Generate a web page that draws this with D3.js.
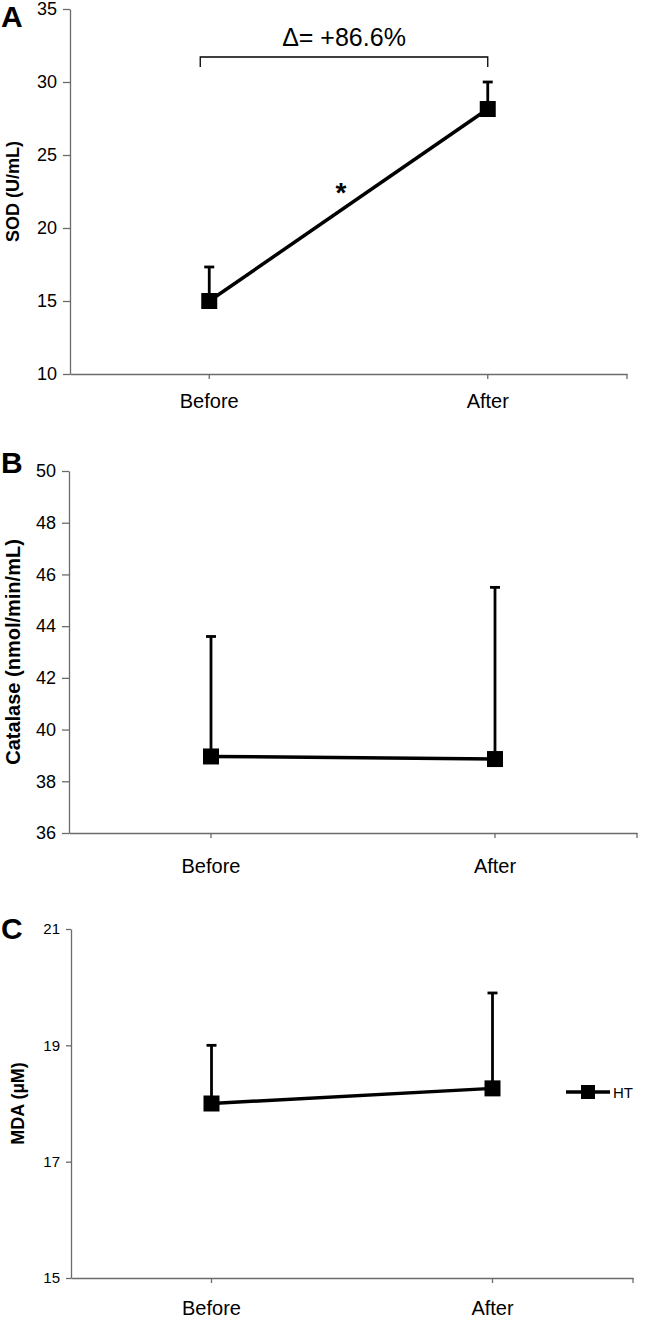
<!DOCTYPE html>
<html>
<head>
<meta charset="utf-8">
<script src="https://cdn.jsdelivr.net/npm/d3@7"></script>
<style>
  html, body { margin: 0; padding: 0; background: #fff; }
  svg { display: block; }
  text { font-family: "Liberation Sans", Arial, sans-serif; fill: #000; }
</style>
</head>
<body>
<svg id="chart" width="667" height="1320"></svg>
<script>
// ---- data ----
const categories = ["Before", "After"];

const sodMean = [15.0, 28.15];
const sodErr  = [2.33, 1.85];
const sodTicks = [10, 15, 20, 25, 30, 35];

const catMean = [38.96, 38.86];
const catErr  = [4.64, 6.64];
const catTicks = [36, 38, 40, 42, 44, 46, 48, 50];

const mdaMean = [18.0, 18.26];
const mdaErr  = [1.0, 1.64];
const mdaTicks = [15, 17, 19, 21];

const seriesName = "HT";
const deltaLabel = "\u0394= +86.6%";

// ---- drawing ----
const svg = d3.select("#chart");
const axisColor = "#6b6b6b";

function panel(cfg) {
  const g = svg.append("g");
  const x = d3.scaleBand().domain(categories).range([cfg.left, cfg.right]);
  const cx = c => x(c) + x.bandwidth() / 2;
  const y = d3.scaleLinear().domain([cfg.ticks[0], cfg.ticks[cfg.ticks.length - 1]]).range([cfg.bottom, cfg.top]);

  // y axis
  const ya = g.append("g").attr("transform", `translate(${cfg.left},0)`)
    .call(d3.axisLeft(y).tickValues(cfg.ticks).tickSize(cfg.tickLen).tickSizeOuter(0).tickPadding(cfg.tickPad).tickFormat(d3.format("d")));
  ya.select(".domain").attr("stroke", axisColor).attr("stroke-width", 1.3);
  ya.selectAll(".tick line").attr("stroke", axisColor).attr("stroke-width", 1.3);
  ya.selectAll(".tick text").attr("font-size", cfg.tickFont).attr("fill", "#000")
    .attr("font-family", "Liberation Sans, Arial, sans-serif");

  // x axis
  const xa = g.append("g").attr("transform", `translate(0,${cfg.bottom})`)
    .call(d3.axisBottom(x).tickSize(5).tickSizeOuter(0).tickPadding(cfg.xPad));
  xa.select(".domain").attr("stroke", axisColor).attr("stroke-width", 1.3);
  xa.selectAll(".tick line").attr("stroke", axisColor).attr("stroke-width", 1.3);
  xa.selectAll(".tick text").attr("font-size", 20).attr("fill", "#000")
    .attr("font-family", "Liberation Sans, Arial, sans-serif");
  // end tick
  g.append("line").attr("x1", cfg.right).attr("x2", cfg.right)
    .attr("y1", cfg.bottom).attr("y2", cfg.bottom + 5)
    .attr("stroke", axisColor).attr("stroke-width", 1.3);

  // y title
  g.append("text")
    .attr("transform", `translate(${cfg.titleX},${(cfg.top + cfg.bottom) / 2}) rotate(-90)`)
    .attr("text-anchor", "middle").attr("dominant-baseline", "central")
    .attr("font-size", cfg.titleFont).attr("font-weight", "bold")
    .text(cfg.title);

  // panel letter
  g.append("text").attr("x", 1).attr("y", cfg.letterY)
    .attr("font-size", 30).attr("font-weight", "bold").text(cfg.letter);

  // error bars (upper)
  const eb = g.append("g");
  categories.forEach((c, i) => {
    const top = y(cfg.mean[i] + cfg.err[i]);
    eb.append("line").attr("x1", cx(c)).attr("x2", cx(c))
      .attr("y1", y(cfg.mean[i])).attr("y2", top)
      .attr("stroke", "#000").attr("stroke-width", 2.8);
    eb.append("line").attr("x1", cx(c) - 5).attr("x2", cx(c) + 5)
      .attr("y1", top).attr("y2", top)
      .attr("stroke", "#000").attr("stroke-width", 2.8);
  });

  // line
  const line = d3.line().x((d, i) => cx(categories[i])).y(d => y(d));
  g.append("path").datum(cfg.mean).attr("d", line)
    .attr("fill", "none").attr("stroke", "#000").attr("stroke-width", 3.5);

  // markers
  g.selectAll(".mk").data(cfg.mean).enter().append("rect")
    .attr("x", (d, i) => cx(categories[i]) - 8)
    .attr("y", d => y(d) - 8)
    .attr("width", 16).attr("height", 16).attr("fill", "#000");

  return { g, x, y, cx };
}

// Panel A
const A = panel({
  left: 70, right: 627, top: 9, bottom: 374,
  ticks: sodTicks, mean: sodMean, err: sodErr,
  tickLen: 7, tickPad: 6, tickFont: 18, xPad: 15,
  title: "SOD (U/mL)", titleX: 13, titleFont: 18,
  letter: "A", letterY: 27
});
// bracket + delta annotation
const bx1 = A.cx(categories[0]) - 9, bx2 = A.cx(categories[1]);
A.g.append("path")
  .attr("d", `M${bx1},67 L${bx1},57 L${bx2},57 L${bx2},67`)
  .attr("fill", "none").attr("stroke", "#000").attr("stroke-width", 1.3);
A.g.append("text").attr("x", (bx1 + bx2) / 2).attr("y", 46)
  .attr("text-anchor", "middle").attr("font-size", 25).text(deltaLabel);
A.g.append("text").attr("x", 341).attr("y", 202)
  .attr("text-anchor", "middle").attr("font-size", 28).attr("font-weight", "bold").text("*");

// Panel B
panel({
  left: 69, right: 637, top: 471, bottom: 833,
  ticks: catTicks, mean: catMean, err: catErr,
  tickLen: 7, tickPad: 6, tickFont: 18, xPad: 21,
  title: "Catalase (nmol/min/mL)", titleX: 13, titleFont: 20,
  letter: "B", letterY: 473
});

// Panel C
const C = panel({
  left: 71, right: 633, top: 929, bottom: 1278,
  ticks: mdaTicks, mean: mdaMean, err: mdaErr,
  tickLen: 5, tickPad: 6, tickFont: 15, xPad: 18,
  title: "MDA (\u00b5M)", titleX: 18, titleFont: 18,
  letter: "C", letterY: 939
});

// Legend
const lg = svg.append("g").attr("transform", "translate(0,1092)");
lg.append("line").attr("x1", 566).attr("x2", 610).attr("y1", 0).attr("y2", 0)
  .attr("stroke", "#000").attr("stroke-width", 3.5);
lg.append("rect").attr("x", 581).attr("y", -7).attr("width", 14).attr("height", 14).attr("fill", "#000");
lg.append("text").attr("x", 613).attr("y", 0).attr("dominant-baseline", "central")
  .attr("font-size", 15).text(seriesName);
</script>
</body>
</html>
